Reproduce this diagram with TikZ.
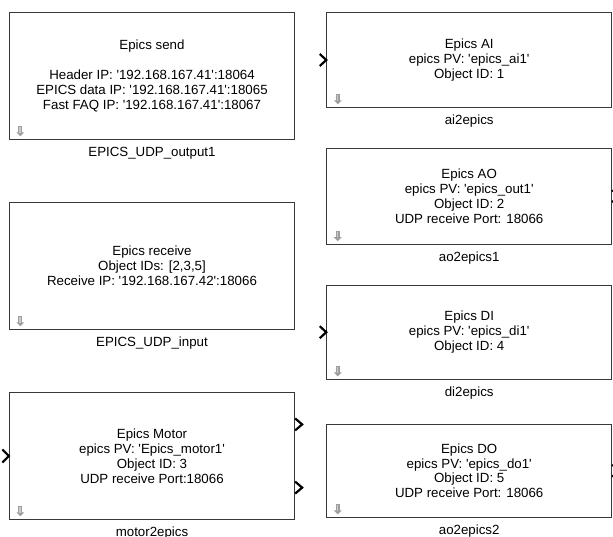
\documentclass[tikz,border=0pt]{standalone}
\usepackage{fontspec}
\setmainfont{Liberation Sans}[Ligatures=TeXOff]
\usetikzlibrary{calc}
\tikzset{
  blk/.style={draw=black!78, line width=0.9pt, fill=white, inner sep=0pt, align=center,
    font=\fontsize{13.3}{14.9}\selectfont},
  lbl/.style={inner sep=0pt, anchor=base, font=\fontsize{13.3}{14.9}\selectfont},
  port/.style={draw=black, line width=2.2pt, line cap=butt, line join=miter},
  dicon/.pic={
    \fill[black!38] (-2,-5.5) rectangle (2,0.8);
    \fill[black!38] (-4,0.5) -- (4,0.5) -- (0,4.5) -- cycle;
    \fill[black!20] (-1,-4.8) rectangle (0.3,0.8);
  }
}
\begin{document}
\begin{tikzpicture}[x=1pt,y=-1pt]
\useasboundingbox (0,0) rectangle (613,536);
\clip (0,0) rectangle (613,536);
% left column
\node[blk, minimum width=285.4pt, minimum height=126.6pt] (send) at (152,76)
  {Epics send\\[14.9pt]Header IP: '192.168.167.41':18064\\EPICS data IP: '192.168.167.41':18065\\Fast FAQ IP: '192.168.167.41':18067};
\node[blk, minimum width=285.4pt, minimum height=126.6pt] (recv) at (152,266)
  {Epics receive\\Object IDs: [2,3,5]\\Receive IP: '192.168.167.42':18066};
\node[blk, minimum width=285.4pt, minimum height=126.6pt] (motor) at (152,456)
  {Epics Motor\\epics PV: 'Epics\_motor1'\\Object ID: 3\\UDP receive Port:18066};
% right column
\node[blk, minimum width=285pt, minimum height=94.6pt] (ai) at (469.2,60)
  {Epics AI\\epics PV: 'epics\_ai1'\\Object ID: 1};
\node[blk, minimum width=285pt, minimum height=95.7pt] (ao) at (469.2,196.2)
  {Epics AO\\epics PV: 'epics\_out1'\\Object ID: 2\\UDP receive Port: 18066};
\node[blk, minimum width=285pt, minimum height=94.3pt] (di) at (469.2,332.2)
  {Epics DI\\epics PV: 'epics\_di1'\\Object ID: 4};
\node[blk, minimum width=285pt, minimum height=93.3pt] (do) at (469.2,470.7)
  {Epics DO\\epics PV: 'epics\_do1'\\Object ID: 5\\UDP receive Port: 18066};
% labels
\node[lbl] (lsend) at ($(send.south)+(0,16.8)$) {EPICS\_UDP\_output1};
\node[lbl] (lrecv) at ($(recv.south)+(0,16.8)$) {EPICS\_UDP\_input};
\node[lbl] (lmotor) at ($(motor.south)+(0,16.8)$) {motor2epics};
\node[lbl] (lai) at ($(ai.south)+(0,16.8)$) {ai2epics};
\node[lbl] (lao) at ($(ao.south)+(0,16.8)$) {ao2epics1};
\node[lbl] (ldi) at ($(di.south)+(0,16.8)$) {di2epics};
\node[lbl] (ldo) at ($(do.south)+(0,16.8)$) {ao2epics2};
% icons
\foreach \b in {send,recv,motor,ai,ao,di,do}
  \pic at ($(\b.south west)+(11.5,-8)$) {dicon};
% ports
\draw[port] ($(ai.west)+(-6.5,-6)$) -- (ai.west) -- ($(ai.west)+(-6.5,6)$);
\draw[port] ($(di.west)+(-6.5,-6)$) -- (di.west) -- ($(di.west)+(-6.5,6)$);
\draw[port] ($(motor.west)+(-6.5,-6.5)$) -- (motor.west) -- ($(motor.west)+(-6.5,6.5)$);
\draw[port] ($(motor.east)+(0,-37.6)$) -- ($(motor.east)+(7,-31.6)$) -- ($(motor.east)+(0,-25.6)$);
\draw[port] ($(motor.east)+(0,25.6)$) -- ($(motor.east)+(7,31.6)$) -- ($(motor.east)+(0,37.6)$);
\draw[port] ($(ao.east)+(0,-6)$) -- ($(ao.east)+(7,0)$) -- ($(ao.east)+(0,6)$);
\draw[port] ($(do.east)+(0,-6)$) -- ($(do.east)+(7,0)$) -- ($(do.east)+(0,6)$);
\end{tikzpicture}
\end{document}
